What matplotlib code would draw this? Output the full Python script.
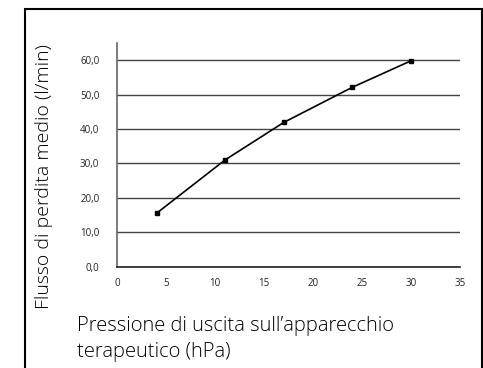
import matplotlib
matplotlib.use("Agg")
import matplotlib.pyplot as plt
from matplotlib.patches import Rectangle

plt.rcParams['font.family'] = ['Open Sans', 'DejaVu Sans']

pressure = [4, 11, 17, 24, 30]
flow = [15.5, 31.0, 41.9, 52.1, 59.8]
yticks = [0, 10, 20, 30, 40, 50, 60]
ytick_labels = ["0,0", "10,0", "20,0", "30,0", "40,0", "50,0", "60,0"]
xticks = [0, 5, 10, 15, 20, 25, 30, 35]

fig = plt.figure(figsize=(4.83, 3.68), dpi=100)
ax = fig.add_axes([0.243, 0.2753, 0.709, 0.608])

# frame border
fig.patches.append(Rectangle((25/483, -0.1), (482-25)/483, 1.1 - 9/368,
                             transform=fig.transFigure, fill=False,
                             edgecolor='black', linewidth=1.5))

ax.plot(pressure, flow, color='black', linewidth=1.2, marker='s',
        markersize=3.5, zorder=3)

ax.set_xlim(0, 35)
ax.set_ylim(0, 65)
ax.set_yticks(yticks)
ax.set_yticklabels(ytick_labels)
ax.set_xticks(xticks)
ax.yaxis.grid(True, color='#444444', linewidth=1.0)
ax.set_axisbelow(True)
for s in ['top', 'right']:
    ax.spines[s].set_visible(False)
ax.spines['left'].set_color('#666666')
ax.spines['left'].set_linewidth(1.2)
ax.spines['bottom'].set_color('#222222')
ax.spines['bottom'].set_linewidth(1.2)
ax.tick_params(axis='y', length=0, pad=13, labelsize=7, colors='#222222')
ax.tick_params(axis='x', length=0, pad=8, labelsize=7, colors='#222222')

fig.text(44/483, 1 - 177/368, "Flusso di perdita medio (l/min)", rotation=90,
         ha='center', va='center', fontsize=14, fontweight='light')
fig.text(77/483, 1 - 339/368, "Pressione di uscita sull\u2019apparecchio\nterapeutico (hPa)",
         ha='left', va='center', fontsize=14.5, fontweight='light', linespacing=1.4)

fig.savefig("out.png", dpi=100)
